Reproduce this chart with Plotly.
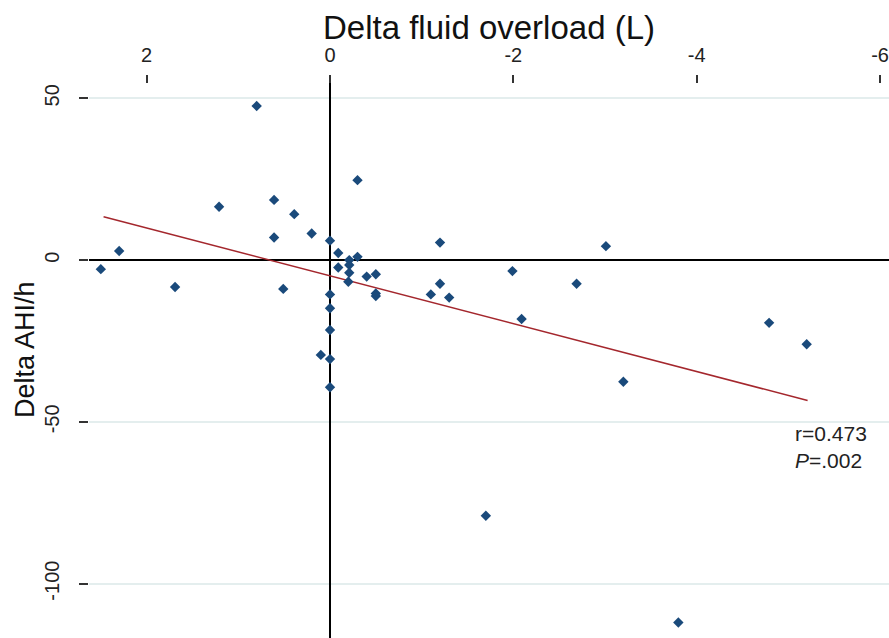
import plotly.graph_objects as go

# Data
delta_fluid = [2.50, 2.30, 1.69, 1.21, 0.80, 0.61, 0.39, 0.61, 0.20, 0.51,
               0.00, -0.09, -0.09, -0.21, -0.21, -0.21, -0.20, -0.30, -0.30, -0.40,
               -0.50, -0.50, -0.50, 0.00, 0.00, 0.00, 0.10, 0.00, 0.00, -1.10,
               -1.20, -1.20, -1.30, -1.99, -2.09, -2.69, -3.01, -3.20, -4.79, -5.20,
               -1.70, -3.80]
delta_ahi = [-2.8, 2.8, -8.3, 16.5, 47.6, 18.6, 14.2, 7.0, 8.2, -8.9,
             6.0, 2.2, -2.3, 0.0, -1.5, -3.9, -6.7, 1.0, 24.7, -5.1,
             -4.4, -10.3, -11.1, -10.6, -14.9, -21.6, -29.3, -30.6, -39.3, -10.6,
             5.4, -7.3, -11.6, -3.4, -18.2, -7.3, 4.3, -37.6, -19.4, -26.0,
             -79.0, -112.0]
fit_x = [2.47, -5.21]
fit_y = [13.4, -43.4]
x_ticks = [2, 0, -2, -4, -6]
y_ticks = [50, 0, -50, -100]

FONT = "Liberation Sans, Arial, sans-serif"

fig = go.Figure()
fig.add_trace(go.Scatter(
    x=fit_x, y=fit_y, mode="lines",
    line=dict(color="#a4272d", width=1.5), hoverinfo="skip", showlegend=False))
fig.add_trace(go.Scatter(
    x=delta_fluid, y=delta_ahi, mode="markers",
    marker=dict(symbol="diamond", size=8, color="#1a4a7b"),
    showlegend=False))

fig.update_layout(
    width=889, height=638,
    margin=dict(l=89, r=0, t=75, b=0),
    paper_bgcolor="white", plot_bgcolor="white",
    font=dict(family=FONT, color="#222222"),
    xaxis=dict(
        side="top", range=[2.629, -6.098], tickvals=x_ticks,
        ticktext=[str(v) for v in x_ticks],
        ticks="inside", ticklen=8, tickwidth=2, tickcolor="#333333",
        ticklabelstandoff=8, automargin=False,
        tickfont=dict(size=20, family=FONT, color="#222222"),
        showgrid=False, showline=False,
        zeroline=True, zerolinecolor="black", zerolinewidth=2,
    ),
    yaxis=dict(
        range=[-116.8, 57.2], tickvals=y_ticks,
        ticktext=[str(v) for v in y_ticks],
        ticks="outside", ticklen=9, tickwidth=2, tickcolor="#333333",
        tickangle=-90, ticklabelstandoff=12, automargin=False,
        tickfont=dict(size=20, family=FONT, color="#222222"),
        showgrid=True, gridcolor="#e4eeee", gridwidth=1.5,
        showline=False,
        zeroline=True, zerolinecolor="black", zerolinewidth=2,
    ),
    annotations=[
        dict(text="Delta fluid overload (L)", xref="paper", yref="paper",
             x=0.5, y=1.085, xanchor="center", yanchor="middle",
             showarrow=False, font=dict(size=33, family=FONT, color="#111111")),
        dict(text="Delta AHI/h", xref="paper", yref="paper",
             x=-0.08, y=0.5115, xanchor="center", yanchor="middle",
             textangle=-90, showarrow=False,
             font=dict(size=27, family=FONT, color="#111111")),
        dict(text="r=0.473<br><i>P</i>=.002", xref="paper", yref="paper",
             x=0.88, y=0.340, xanchor="left", yanchor="middle", align="left",
             showarrow=False,
             font=dict(size=21, family=FONT, color="#222222")),
    ],
)

fig.write_html(
    "out.html",
    config={"displayModeBar": False},
    post_script="document.body.style.margin='0';document.body.style.overflow='hidden';",
)
